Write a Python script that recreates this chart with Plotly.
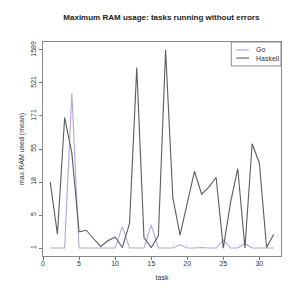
import numpy as np
import plotly.graph_objects as go

tasks = list(range(1, 33))

go_ram = [1.96, 1.96, 1.96, 366, 1.96, 1.96, 1.96, 1.96, 1.96, 1.96,
          4.05, 1.96, 1.96, 1.96, 4.28, 1.96, 1.96, 1.96, 2.19, 1.96,
          1.96, 2.0, 1.96, 1.96, 2.59, 1.96, 1.96, 2.29, 1.96, 1.96,
          1.96, 1.96]

haskell_ram = [18.4, 3.13, 162, 48.6, 3.39, 3.58, 2.71, 2.07, 2.51, 2.86,
               2.0, 4.52, 874, 2.8, 2.0, 2.96, 1589, 10.8, 3.03, 9.0,
               26.3, 12.1, 15.4, 21.5, 1.96, 9.13, 28.8, 1.96, 66.5, 34.8,
               2.0, 3.13]

series_names = ["Go", "Haskell"]
series_colors = ["#b4a5da", "#5c5c5c"]

y_tick_labels = ["1", "5", "18", "55", "171", "521", "1589"]
x_tick_vals = [0, 5, 10, 15, 20, 25, 30]

ymin = min(min(go_ram), min(haskell_ram))
ymax = max(max(go_ram), max(haskell_ram))
y_tick_vals = list(np.geomspace(ymin, ymax, len(y_tick_labels)))

lo, hi = np.log10(ymin), np.log10(ymax)
pad = 0.04 * (hi - lo)

FONT = "Liberation Sans, Arial, sans-serif"

fig = go.Figure()
for name, vals, col in zip(series_names, [go_ram, haskell_ram], series_colors):
    fig.add_trace(go.Scatter(x=tasks, y=vals, mode="lines", name=name,
                             showlegend=False,
                             line=dict(color=col, width=1.1)))

# hand-drawn R-style legend (compact)
fig.add_shape(type="rect", xref="paper", yref="paper",
              x0=0.791, x1=1.0, y0=0.888, y1=1.0,
              line=dict(color="#888", width=1), fillcolor="white", layer="above")
for i, (name, col) in enumerate(zip(series_names, series_colors)):
    yy = 0.963 - i * 0.038
    fig.add_shape(type="line", xref="paper", yref="paper",
                  x0=0.812, x1=0.866, y0=yy, y1=yy,
                  line=dict(color=col, width=1.1), layer="above")
    fig.add_annotation(xref="paper", yref="paper", x=0.887, y=yy,
                       text=name, showarrow=False, xanchor="left",
                       yanchor="middle", font=dict(size=7, color="#333"))

fig.update_layout(
    width=291, height=291,
    margin=dict(l=35, r=18, t=34, b=43),
    paper_bgcolor="white", plot_bgcolor="white",
    font=dict(family=FONT, size=7, color="#333"),
    title=dict(text="<b>Maximum RAM usage: tasks running without errors</b>",
               x=0.527, xanchor="center", xref="container",
               y=0.97, yanchor="middle", yref="container",
               font=dict(size=8, color="#222")),
    showlegend=False,
)
fig.update_xaxes(
    range=[0, 33],
    tickvals=x_tick_vals, ticks="outside", ticklen=3, tickcolor="#777",
    tickfont=dict(color="#333", size=7), ticklabelstandoff=-2,
    showline=True, linecolor="#888", linewidth=1, mirror=True,
    showgrid=False, zeroline=False,
    title=dict(text="task", standoff=8, font=dict(size=7, color="#333")),
)
fig.update_yaxes(
    type="log", range=[lo - pad, hi + pad],
    tickvals=y_tick_vals, ticktext=y_tick_labels, tickangle=-90,
    ticks="outside", ticklen=3, tickcolor="#777",
    tickfont=dict(color="#333", size=7),
    showline=True, linecolor="#888", linewidth=1, mirror=True,
    showgrid=False, zeroline=False,
    title=dict(text="max RAM used (mean)", standoff=4,
               font=dict(size=7, color="#333")),
)

fig.write_html("out.html")
